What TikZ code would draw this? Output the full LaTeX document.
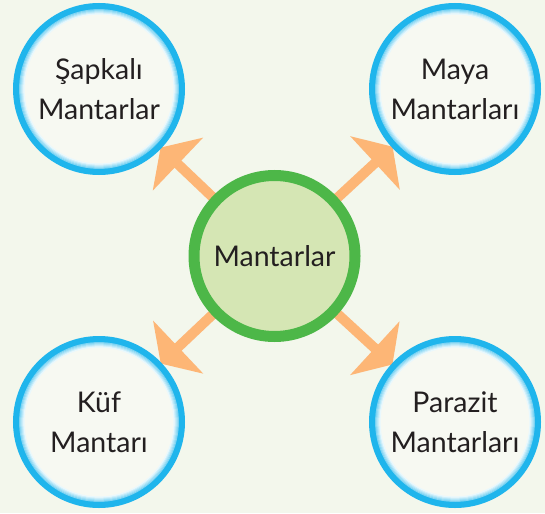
\documentclass[tikz,border=0pt]{standalone}
\usepackage{fontspec}
\setmainfont{Lato}
\usetikzlibrary{arrows.meta,backgrounds}
\definecolor{bgc}{HTML}{F3F7EC}
\definecolor{fillc}{HTML}{F7F9F2}
\definecolor{bluec}{HTML}{1FB5EC}
\definecolor{greenc}{HTML}{4DB748}
\definecolor{greenfill}{HTML}{D5E6B4}
\definecolor{orangec}{HTML}{FDB676}
\definecolor{txt}{HTML}{231F20}
\tikzset{
  bluecircle/.style={circle, draw=bluec, line width=6pt, fill=fillc,
    minimum size=166pt, inner sep=0pt, text=txt, align=center,
    font=\fontsize{28.5}{40}\selectfont,
    path picture={
      \foreach \i in {0,...,5}{
        \draw[line width=1.2pt, bluec!\the\numexpr 70-12*\i\relax!white]
          (path picture bounding box.center) circle ({80pt-\i pt});
      }
    }},
  greencircle/.style={circle, draw=greenc, line width=11pt, fill=greenfill,
    minimum size=161pt, inner sep=0pt, text=txt, align=center,
    font=\fontsize{28.5}{40}\selectfont},
  arr/.style={draw=orangec, line width=10pt,
    -{Triangle[length=24pt,width=72pt]}, shorten >=-1pt}
}
\begin{document}
\begin{tikzpicture}[x=1pt,y=-1pt]
\useasboundingbox (0,0) rectangle (545,513);
\node[bluecircle] (tl) at (99,89) {Şapkalı\\Mantarlar};
\node[bluecircle] (tr) at (455,89) {Maya\\Mantarları};
\node[bluecircle] (bl) at (99,422) {Küf\\Mantarı};
\node[bluecircle] (br) at (455,422) {Parazit\\Mantarları};
\node[greencircle] (c) at (274.5,256) {Mantarlar};
\begin{scope}[on background layer]
\fill[bgc] (0,0) rectangle (545,513);
\draw[arr] (c.center) -- (tl);
\draw[arr] (c.center) -- (tr);
\draw[arr] (c.center) -- (bl);
\draw[arr] (c.center) -- (br);
\end{scope}
\end{tikzpicture}
\end{document}
